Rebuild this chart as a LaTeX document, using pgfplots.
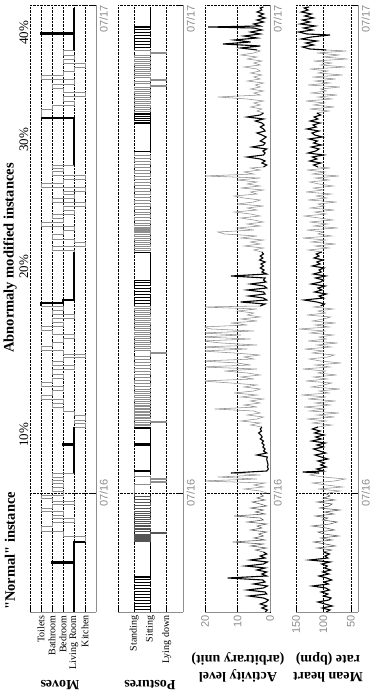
\documentclass[border=0pt]{standalone}
\usepackage{fontspec}
\setmainfont{Liberation Serif}
\setsansfont{Liberation Sans}
\newfontfamily\plainserif{Liberation Serif}
\usepackage{pgfplots}
\pgfplotsset{compat=1.18}
\definecolor{lgray}{HTML}{8E8E8E}
\definecolor{dgray}{HTML}{555555}
\definecolor{tgray}{HTML}{8C8C8C}
\newcommand{\tickfont}{\sffamily\fontsize{11}{11}\selectfont}
\newcommand{\catfont}{\fontsize{10}{10}\selectfont}
\newcommand{\labfont}{\bfseries\fontsize{14}{17}\selectfont}

\pgfplotsset{
  panel/.style={
    scale only axis, width=607pt, anchor=south west,
    xmin=0, xmax=607, xtick={119,607}, xticklabels={07/16,\llap{07/17}},
    axis x line*=bottom, axis y line*=left,
    axis line style={lgray, line width=0.9pt},
    grid=major, grid style={densely dotted, black, line width=0.5pt},
    tick align=inside, major tick length=4pt,
    tick style={black, line width=0.5pt},
    xticklabel style={font=\tickfont, text=tgray},
    no markers,
  },
  blk/.style={black, line width=1.1pt},
  blkthin/.style={black, line width=0.8pt},
  gry/.style={lgray, line width=0.55pt},
  dgry/.style={dgray, line width=0.55pt},
}

\begin{document}
\begin{tikzpicture}[rotate=90, transform shape]
\useasboundingbox (0,0) rectangle (694pt,373pt);

% ---------------- Moves ----------------
\begin{axis}[panel, at={(82pt,277pt)}, height=66pt,
  ymin=0, ymax=6, ytick={1,2,3,4,5,6},
  yticklabels={Kitchen,Living Room,Bedroom,Bathroom,Toilets,{}},
  yticklabel style={font=\catfont}]
  \addplot[gry, const plot] coordinates {
    (70,1) (76,3) (81,5) (86,4) (90,2) (94,4) (97,3) (101,5) (104,4) (108,2)
    (111,4) (114,5) (117,3) (121,4) (125,3) (129,4) (132,3) (135,4) (139,2)};
  \addplot[gry, const plot] coordinates {
    (185,2) (185,1) (189,2) (192,1) (197,2) (201,3) (205,4) (209,3) (213,5) (217,4)
    (222,3) (226,5) (230,4) (234,3) (238,4) (243,2) (247,4) (251,3) (255,1) (258,3)
    (262,5) (266,4) (270,3) (274,2) (278,4) (282,5) (286,3) (290,4) (294,2) (298,4)
    (302,3) (306,5)};
  \addplot[gry, const plot] coordinates {
    (360,2) (362,4) (366,1) (370,2) (373,4) (378,3) (382,2) (386,5) (390,3) (394,4)
    (398,2) (402,3) (406,1) (410,4) (414,2) (418,3) (421,1) (425,5) (429,3) (433,1)
    (437,4) (441,3) (444,4) (447,2)};
  \addplot[gry, const plot] coordinates {
    (494,5) (503,4) (507,2) (511,3) (516,1) (520,3) (524,4) (528,2) (533,5) (537,3)
    (541,2) (545,1) (549,3) (553,2) (557,3) (562,2)};
  \addplot[blk, const plot] coordinates {(0,2) (49,4) (50,2) (70,1)};
  \addplot[blk, const plot] coordinates {(139,2) (167,3) (168,2) (185,2)};
  \addplot[blk, const plot] coordinates {(306,5) (309,3) (312,2) (360,2)};
  \addplot[blk, const plot] coordinates {(447,2) (494,5)};
  \addplot[blk, const plot] coordinates {(562,2) (578,5) (579,2) (604,2)};
\end{axis}

% ---------------- Postures ----------------
\begin{axis}[panel, at={(82pt,190pt)}, height=65pt,
  ymin=0, ymax=4, ytick={1,2,3,4},
  yticklabels={Lying down,Sitting,Standing,{}},
  yticklabel style={font=\catfont}]
  \addplot[dgry, const plot] coordinates {
    (70,2) (71,3) (72,2) (73,3) (74,2) (75,3) (76,2) (77,3) (78,2) (79,1) (80,2)
    (81,3) (83,2) (84,3) (86,2) (87,3) (89,2) (91,3) (93,2) (95,3) (97,2) (99,3)
    (101,2) (104,3) (107,2) (110,3) (113,2) (116,3) (119,3)};
  \addplot[gry, const plot] coordinates {
    (119,3) (128,2) (130,1) (131,2) (133,1) (134,2) (136,3) (140,3)};
  \addplot[gry, const plot] coordinates {
    (185,3) (187,2) (188,3) (190,1) (191,2) (192,3) (194,2) (195,3) (197,2) (198,3)
    (200,2) (201,3) (203,2) (204,3) (206,2) (207,3) (209,2) (211,3) (213,2) (215,3)
    (217,2) (219,3) (221,2) (223,3) (226,2) (229,3) (232,2) (235,3) (238,2) (241,3)
    (244,2) (247,3) (250,2) (253,3) (256,2) (259,1) (260,2) (262,3) (264,2) (266,3)
    (268,2) (270,3) (272,2) (274,3) (276,2) (278,3) (280,2) (282,3) (284,2) (286,3)
    (288,2) (290,3) (292,2) (294,3) (296,2) (298,3) (300,2) (302,3) (304,2) (306,3)};
  \addplot[gry, const plot] coordinates {
    (360,3) (362,2) (364,3) (366,2) (368,3) (370,2) (372,3) (374,2) (376,3) (378,2)
    (380,3) (381,2) (382,3) (383,2) (384,3) (385,2) (387,3) (389,2) (392,3) (395,2)
    (398,3) (400,2) (403,3) (406,2) (409,3) (412,2) (415,3) (418,2) (421,3) (424,2)
    (427,3) (430,2) (433,3) (436,2) (439,3) (442,2) (445,3) (448,2) (451,3) (454,2)
    (457,3) (460,3)};
  \addplot[gry, const plot] coordinates {
    (499,3) (501,2) (503,3) (505,2) (507,3) (509,2) (511,3) (513,2) (515,3) (517,2)
    (519,3) (521,2) (523,3) (525,2) (526,1) (527,2) (529,3) (531,2) (532,1) (533,2)
    (535,3) (537,2) (539,3) (541,2) (543,3) (545,2) (547,3) (549,2) (551,3) (553,2)
    (555,3) (557,2) (559,1) (560,2) (562,3)};
  \addplot[blkthin, const plot] coordinates {
    (0,3) (3,2) (6,3) (9,2) (12,3) (15,2) (18,3) (21,2) (24,3) (27,2) (30,3) (33,2)
    (35,3) (36,2) (70,2)};
  \addplot[blk, const plot] coordinates {(140,3) (141,2) (167,3) (168,2) (184,3) (185,3)};
  \addplot[blkthin, const plot] coordinates {
    (306,3) (309,2) (312,3) (315,2) (318,3) (321,2) (324,3) (327,2) (330,3) (332,2) (360,3)};
  \addplot[blkthin, const plot] coordinates {
    (460,3) (461,2) (489,3) (490,2) (492,3) (494,2) (496,3) (498,2) (499,3)};
  \addplot[blkthin, const plot] coordinates {
    (562,3) (565,2) (568,3) (571,2) (574,3) (577,2) (580,3) (583,2) (585,3) (586,2) (604,2)};
\end{axis}

% ---------------- Activity ----------------
\begin{axis}[panel, at={(82pt,103pt)}, height=65pt,
  ymin=0, ymax=20, ytick={0,10,20}, yticklabels={0,10,20},
  yticklabel style={font=\tickfont, text=tgray}]
  \addplot[dgry] coordinates {
    (60,2) (62,4.5) (64,1) (66,6) (68,2) (70,11.5) (72,1.5) (74,5) (76,2) (78,3.5)
    (80,1) (82,6) (84,2.5) (86,4) (88,1) (90,7) (92,2) (94,3) (96,11) (98,1.5)
    (100,4.5) (102,2) (104,6) (106,1) (108,3) (110,5.5) (112,1.5) (114,4) (116,2)
    (118,3) (119,1)};
  \addplot[gry] coordinates {
    (119,1) (121,3) (123,8) (125,2) (127,5) (129,1.5) (131,21) (133,4) (135,16)
    (137,3) (139,12)};
  \addplot[gry] coordinates {
    (185,2.5) (187,6) (189,3) (191,9) (193,4) (195,2) (197,7) (199,3) (201,5) (203,17)
    (205,4) (207,8) (209,3) (211,6) (213,2) (215,9) (217,4) (219,11) (221,5) (223,3)
    (225,8) (227,4) (229,12) (231,21) (233,5) (235,9) (237,3) (239,7) (241,14) (243,4)
    (245,21) (247,6) (249,10) (251,21) (253,5) (255,8) (257,3) (259,11) (261,21)
    (263,7) (265,21) (267,4) (269,15) (271,21) (273,6) (275,21) (277,9) (279,21)
    (281,5) (283,18) (285,21) (287,7) (289,12) (291,4) (293,9) (295,3) (297,7) (299,5)
    (301,10) (303,4) (305,21) (306,3)};
  \addplot[gry] coordinates {
    (360,2.5) (362,5) (364,2) (366,8) (368,3) (370,6) (372,2) (374,9) (376,4) (378,14)
    (380,16) (382,5) (384,10) (386,3) (388,7) (390,2) (392,5) (394,9) (396,3) (398,6)
    (400,11) (402,4) (404,7) (406,2) (408,10) (410,5) (412,3) (414,8) (416,11) (418,4)
    (420,6) (422,2) (424,9) (426,3) (428,7) (430,4) (432,10) (434,3) (436,20) (438,5)
    (440,8) (442,3) (444,6) (445,2)};
  \addplot[gry] coordinates {
    (499,2) (501,4) (503,2.5) (505,6) (507,3) (509,5) (511,2) (513,7) (515,16) (517,3)
    (519,5) (521,2) (523,6) (525,3) (527,4.5) (529,2) (531,7) (533,3) (535,5) (537,2.5)
    (539,6) (541,3) (543,4) (545,8) (547,3) (549,5) (551,2.5) (553,7) (555,4) (557,9)
    (559,5) (561,3) (562,4)};
  \addplot[blk] coordinates {
    (0,1.5) (2,0.8) (4,2.5) (6,1) (8,3) (10,1.2) (12,0.5) (14,2) (16,6.5) (18,1)
    (20,1.5) (22,7) (24,2) (26,0.8) (28,5) (30,1.5) (32,2.2) (34,13) (36,1) (38,2.5)
    (40,1) (42,4) (44,1.5) (46,7.5) (48,2) (50,0.8) (52,6) (54,1.5) (56,3) (58,1) (60,2)};
  \addplot[blk] coordinates {
    (139,12) (141,1) (143,0.5) (145,0.8) (147,0.6) (149,0.7) (151,0.9) (153,1)
    (155,0.8) (157,4) (159,1) (161,2) (163,1.5) (165,2.2) (167,1.8) (169,2.5) (171,2)
    (173,3) (175,2.4) (177,2.8) (179,3.5) (181,2.6) (183,3) (185,2.5)};
  \addplot[blk] coordinates {
    (306,3) (308,1.5) (310,9) (312,1) (314,2) (316,6.5) (318,1.5) (320,2) (322,7)
    (324,1) (326,1.8) (328,6) (330,1.2) (332,2) (334,1.5) (336,12) (338,1) (340,2.5)
    (342,1.8) (344,3) (346,2) (348,2.8) (350,1.5) (352,3.2) (354,2.2) (356,3) (358,2)
    (360,2.5)};
  \addplot[blk] coordinates {
    (445,2) (447,1) (449,2.5) (451,1.5) (453,3) (455,7) (457,2) (459,1.5) (461,2.2)
    (463,1) (465,5.5) (467,2) (469,1.5) (471,3) (473,2) (475,1.2) (477,2.5) (479,4)
    (481,1.5) (483,2) (485,3) (487,1.8) (489,2.5) (491,4.5) (493,2) (495,7) (497,3)
    (499,2)};
  \addplot[blk] coordinates {
    (562,4) (564,9) (566,3) (568,14.5) (570,6) (572,11) (574,4) (576,8) (578,3) (580,6)
    (582,2.5) (584,5) (585,19) (586,3) (588,5) (590,2) (592,4) (594,1.5) (596,3.5)
    (598,2) (600,4) (602,2.5) (604,3) (605,2)};
\end{axis}

% ---------------- Heart rate ----------------
\begin{axis}[panel, at={(82pt,15pt)}, height=62pt,
  ymin=37, ymax=150, ytick={50,100,150}, yticklabels={50,100,150},
  yticklabel style={font=\tickfont, text=tgray}]
  \addplot[dgry] coordinates {
    (60,100) (62,85) (64,112) (66,78) (68,96) (70,118) (72,84) (74,105) (76,72) (78,99)
    (80,110) (82,80) (84,95) (86,121) (88,88) (90,75) (92,102) (94,92) (96,115) (98,81)
    (100,98) (102,70) (104,107) (106,90) (108,84) (110,112) (112,79) (114,100) (116,88)
    (118,95) (119,90)};
  \addplot[gry] coordinates {
    (119,90) (121,70) (123,110) (125,65) (127,95) (129,120) (131,80) (133,60) (135,100)
    (137,125) (139,108)};
  \addplot[gry] coordinates {
    (185,110) (187,85) (189,120) (191,95) (193,130) (195,80) (197,112) (199,72) (201,125)
    (203,98) (205,135) (207,88) (209,115) (211,78) (213,128) (215,95) (217,140) (219,90)
    (221,108) (223,70) (225,122) (227,100) (229,85) (231,132) (233,93) (235,118) (237,76)
    (239,110) (241,96) (243,138) (245,88) (247,115) (249,68) (251,105) (253,126) (255,92)
    (257,80) (259,120) (261,100) (263,134) (265,86) (267,112) (269,74) (271,128) (273,95)
    (275,108) (277,82) (279,124) (281,98) (283,145) (285,90) (287,115) (289,78) (291,120)
    (293,100) (295,87) (297,130) (299,96) (301,110) (303,82) (305,118) (306,105)};
  \addplot[gry] coordinates {
    (360,103) (362,128) (364,90) (366,115) (368,78) (370,122) (372,96) (374,138) (376,85)
    (378,110) (380,100) (382,130) (384,74) (386,118) (388,92) (390,125) (392,83) (394,108)
    (396,135) (398,95) (400,116) (402,80) (404,124) (406,98) (408,110) (410,76) (412,128)
    (414,94) (416,113) (418,86) (420,132) (422,100) (424,118) (426,82) (428,108) (430,125)
    (432,90) (434,115) (436,72) (438,120) (440,97) (442,130) (444,88) (445,110)};
  \addplot[gry] coordinates {
    (499,112) (501,90) (503,125) (505,80) (507,118) (509,98) (511,132) (513,85) (515,110)
    (517,75) (519,122) (521,95) (523,105) (525,70) (527,128) (529,88) (531,115) (533,78)
    (535,120) (537,65) (539,110) (541,92) (543,125) (545,60) (547,105) (549,85) (551,118)
    (553,56) (555,100) (557,72) (559,112) (561,58) (562,95)};
  \addplot[blk] coordinates {
    (0,95) (2,88) (4,102) (6,84) (8,97) (10,110) (12,90) (14,86) (16,100) (18,92)
    (20,104) (22,89) (24,96) (26,120) (28,91) (30,99) (32,85) (34,94) (36,108) (38,90)
    (40,101) (42,87) (44,98) (46,93) (48,103) (50,88) (52,125) (54,92) (56,97) (58,89)
    (60,100)};
  \addplot[blk] coordinates {
    (139,108) (140,138) (141,100) (143,112) (145,95) (147,105) (149,98) (151,110) (153,92)
    (155,104) (157,115) (159,96) (161,107) (163,118) (165,100) (167,112) (169,97) (171,121)
    (173,104) (175,114) (177,99) (179,116) (181,106) (183,120) (185,110)};
  \addplot[blk] coordinates {
    (306,105) (308,98) (310,112) (312,135) (314,100) (316,108) (318,95) (320,116) (322,103)
    (324,110) (326,97) (328,122) (330,105) (332,100) (334,114) (336,96) (338,118) (340,104)
    (342,108) (344,99) (346,120) (348,106) (350,112) (352,101) (354,117) (356,108)
    (358,113) (360,103)};
  \addplot[blk] coordinates {
    (445,110) (447,118) (449,105) (451,125) (453,112) (455,120) (457,100) (459,128)
    (461,114) (463,108) (465,122) (467,104) (469,118) (471,111) (473,126) (475,102)
    (477,116) (479,121) (481,108) (483,130) (485,113) (487,119) (489,106) (491,124)
    (493,110) (495,117) (497,105) (499,112)};
  \addplot[blk] coordinates {
    (562,95) (563,125) (565,138) (567,118) (569,132) (571,112) (573,140) (575,122) (577,88)
    (578,130) (580,145) (582,120) (584,136) (586,115) (588,142) (590,125) (592,138)
    (594,118) (596,134) (598,122) (600,140) (602,128) (604,135) (605,126)};
\end{axis}

% ---------------- labels ----------------
\node[rotate=90, font=\labfont] at (9pt,313pt) {Moves};
\node[rotate=90, font=\labfont] at (9pt,223pt) {Postures};
\node[rotate=90, font=\labfont, align=center] at (27pt,135pt) {Activity level\\(arbitrary unit)};
\node[rotate=90, font=\labfont, align=center] at (27pt,45pt) {Mean heart\\rate (bpm)};
\node[font=\plainserif\bfseries\fontsize{14.5}{14.5}\selectfont] at (143pt,363pt) {"Normal" instance};
\node[font=\bfseries\fontsize{14.5}{14.5}\selectfont] at (436pt,363pt) {Abnormaly modified instances};
\node[font=\fontsize{13}{13}\selectfont] at (259pt,349pt) {10\%};
\node[font=\fontsize{13}{13}\selectfont] at (427pt,349pt) {20\%};
\node[font=\fontsize{13}{13}\selectfont] at (554pt,349pt) {30\%};
\node[font=\fontsize{13}{13}\selectfont] at (661pt,349pt) {40\%};
\end{tikzpicture}
\end{document}
